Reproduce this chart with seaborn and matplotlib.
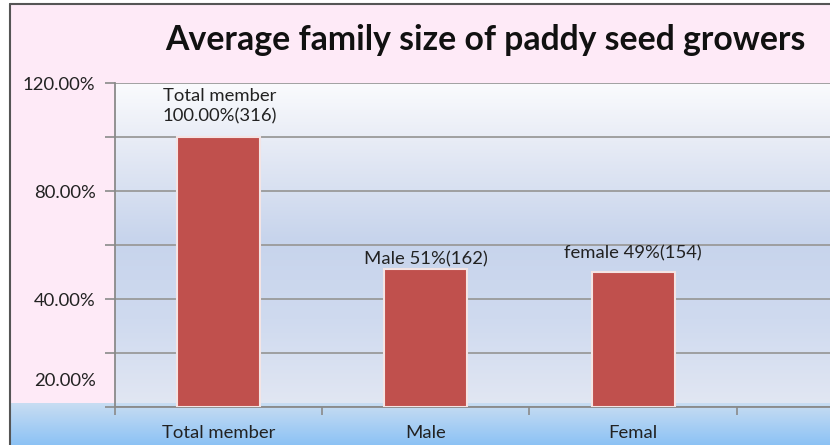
import numpy as np
import matplotlib
matplotlib.use("Agg")
import matplotlib.pyplot as plt
import seaborn as sns

# 数据
categories = ["Total member", "Male", "Femal"]
percent_values = [100, 51, 50]
bar_labels = ["Total member\n100.00%(316)", "Male 51%(162)", "female 49%(154)"]
ytick_pos = [10, 40, 80, 120]
ytick_labels = ["20.00%", "40.00%", "80.00%", "120.00%"]
title = "Average family size of paddy seed growers"

sns.set_theme(style="white")
plt.rcParams["font.family"] = ["Lato", "DejaVu Sans"]

W, H = 830, 445
fig = plt.figure(figsize=(W / 100, H / 100), dpi=100)
fig.patch.set_facecolor("white")


def vgrad(stops, n=200):
    ys = np.array([s[0] for s in stops], dtype=float)
    cols = np.array([matplotlib.colors.to_rgb(s[1]) for s in stops])
    yy = np.linspace(ys[0], ys[-1], n)
    img = np.stack([np.interp(yy, ys, cols[:, k]) for k in range(3)], axis=1)
    return img[:, None, :]


# 背景层（像素坐标）
bg = fig.add_axes([0, 0, 1, 1], zorder=-5)
bg.set_xlim(0, W)
bg.set_ylim(H, 0)
bg.axis("off")
bg.add_patch(plt.Rectangle((10, 4), W - 10, H - 4, color="#FEEAF7", lw=0))
plot_stops = [(83, "#FAFBFD"), (140, "#E8ECF6"), (240, "#C7D4EC"),
              (320, "#CFDAEF"), (407, "#E2E7F3")]
bg.imshow(vgrad(plot_stops), extent=(115, W, 407, 83), aspect="auto", zorder=1)
band_stops = [(403, "#C8DDF2"), (445, "#8CC2F5")]
bg.imshow(vgrad(band_stops), extent=(10, W, 445, 403), aspect="auto", zorder=2)
bg.plot([10, W], [4, 4], color="#555555", lw=1.5, zorder=3)
bg.plot([10, 10], [4, H], color="#555555", lw=1.5, zorder=3)
bg.set_xlim(0, W)
bg.set_ylim(H, 0)

# 主图
ax = fig.add_axes([115 / W, 1 - 407 / H, 1 - 115 / W, (407 - 83) / H])
ax.patch.set_alpha(0)
sns.barplot(x=categories, y=percent_values, color="#C0504D", saturation=1,
            width=0.4, edgecolor="#F4E4E4", linewidth=1.5, ax=ax, zorder=3)
ax.set_xlim(-0.5, 2.95)
ax.set_ylim(0, 120)

ax.set_yticks(np.arange(0, 121, 20))
ax.set_yticklabels([])
ax.yaxis.remove_overlapping_locs = False
ax.set_yticks(ytick_pos, minor=True)
ax.set_yticklabels(ytick_labels, minor=True)
ax.tick_params(axis="y", which="major", left=True, length=7, color="#8A8A8A", width=1.2)
ax.tick_params(axis="y", which="minor", left=False, length=0, pad=14,
               labelsize=13.3, labelcolor="#222222")
ax.yaxis.grid(True, color="#9A9A9A", lw=1.3, zorder=1)

ax.set_xticks([-0.5, 0.5, 1.5, 2.5])
ax.set_xticklabels([])
ax.set_xticks(range(len(categories)), minor=True)
ax.set_xticklabels(categories, minor=True)
ax.tick_params(axis="x", which="major", bottom=True, length=6, color="#8A8A8A", width=1.2)
ax.tick_params(axis="x", which="minor", bottom=False, length=0, pad=13,
               labelsize=13.3, labelcolor="#222222")
ax.set_xlabel("")
ax.set_ylabel("")

for s in ["top", "right"]:
    ax.spines[s].set_visible(False)
for s in ["left", "bottom"]:
    ax.spines[s].set_color("#8A8A8A")
    ax.spines[s].set_linewidth(1.3)

# 数据标签
ax.text(-0.27, percent_values[0] + 4.5, bar_labels[0], ha="left", va="bottom",
        fontsize=13.3, color="#222222", linespacing=1.35, zorder=5)
ax.text(1, percent_values[1] + 0.8, bar_labels[1], ha="center", va="bottom",
        fontsize=13.3, color="#222222", zorder=5)
ax.text(2, percent_values[2] + 4, bar_labels[2], ha="center", va="bottom",
        fontsize=13.3, color="#222222", zorder=5)

fig.text(485 / W, 1 - 40 / H, title, ha="center", va="center",
         fontsize=24.3, fontweight="bold", color="#111111")

fig.savefig("out.png", dpi=100)
